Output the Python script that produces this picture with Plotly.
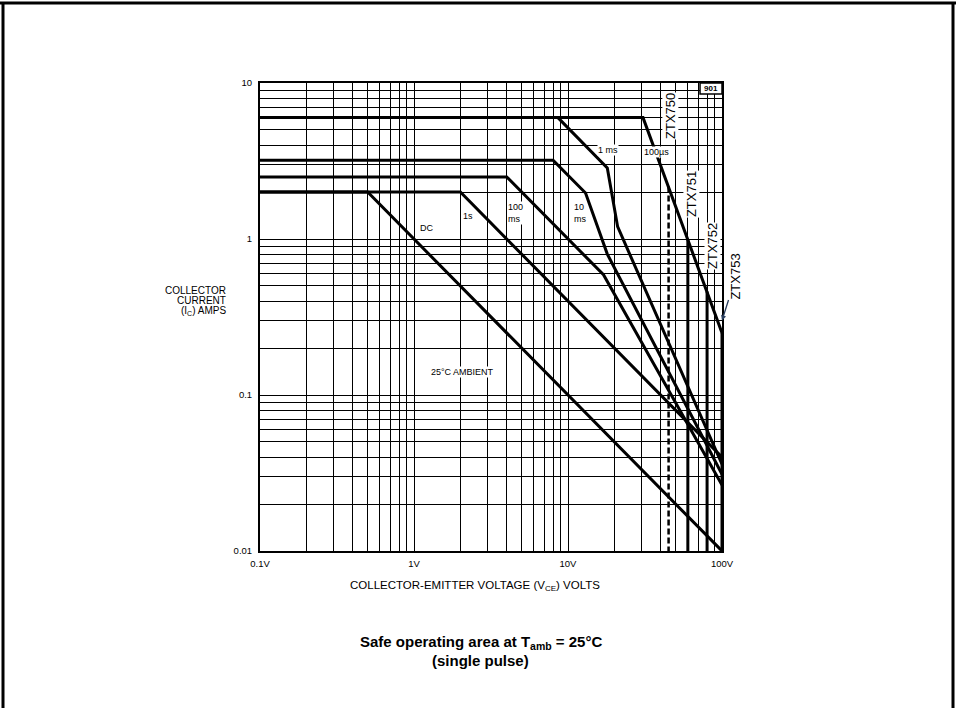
import math
import plotly.graph_objects as go

# ---------------- data ----------------
# curves: collector-emitter voltage (V) and collector current (A)
dc_v = [0.1, 0.5, 100]
dc_i = [2.0, 2.0, 0.01]

s1_v = [0.1, 2.0, 100]
s1_i = [2.0, 2.0, 0.04]

ms100_v = [0.1, 4.0, 17.0, 100]
ms100_i = [2.5, 2.5, 0.59, 0.0265]

ms10_v = [0.1, 8.0, 13.0, 18.0, 100]
ms10_i = [3.2, 3.2, 1.97, 0.8, 0.031]

ms1_v = [8.6, 18.0, 21.0, 100]
ms1_i = [6.0, 2.85, 1.2, 0.036]

us100_v = [0.1, 30.7, 100]
us100_i = [6.0, 6.0, 0.25]

# device VCEO limits (vertical lines)
dev_names = ["ZTX750", "ZTX751", "ZTX752", "ZTX753"]
dev_vceo = [45, 60, 80, 100]
dev_top_i = [2.17, 0.99, 0.46, 0.25]
dev_dash = ["dash", "solid", "solid", "solid"]

x_major = [0.1, 1, 10, 100]
x_major_text = ["0.1V", "1V", "10V", "100V"]
y_major = [0.01, 0.1, 1, 10]
y_major_text = ["0.01", "0.1", "1", "10"]

FONT = "Liberation Sans, Arial, Helvetica, sans-serif"

# grid values (log grid 1..9 per decade)
x_grid = [d * 10.0 ** e for e in (-1, 0, 1) for d in range(1, 10)] + [100]
y_grid = [d * 10.0 ** e for e in (-2, -1, 0) for d in range(1, 10)] + [10]


def fmt_tick(v, majors, texts):
    for m, t in zip(majors, texts):
        if abs(v - m) < 1e-9 * max(1, m):
            return t
    return ""


x_text = [fmt_tick(v, x_major, x_major_text) for v in x_grid]
y_text = [fmt_tick(v, y_major, y_major_text) for v in y_grid]

fig = go.Figure()

line_style = dict(color="black", width=3)
for vv, ii in [(dc_v, dc_i), (s1_v, s1_i), (ms100_v, ms100_i),
               (ms10_v, ms10_i), (ms1_v, ms1_i), (us100_v, us100_i)]:
    fig.add_trace(go.Scatter(x=vv, y=ii, mode="lines", line=line_style,
                             showlegend=False, hoverinfo="skip"))

for v, top, dsh in zip(dev_vceo, dev_top_i, dev_dash):
    fig.add_trace(go.Scatter(x=[v, v], y=[top, 0.01], mode="lines",
                             line=dict(color="black", width=3 if dsh == "solid" else 2.5,
                                       dash="6px,3px" if dsh == "dash" else "solid"),
                             showlegend=False, hoverinfo="skip"))

W, H = 956, 708
L, R, T, B = 260, 956 - 722, 83, 708 - 551
PW, PH = W - L - R, H - T - B


def px(x):
    return (x - L) / PW


def py(y):
    return (H - B - y) / PH


lg = math.log10

fig.update_layout(
    width=W, height=H,
    margin=dict(l=L, r=R, t=T, b=B, pad=0),
    paper_bgcolor="white", plot_bgcolor="white",
    font=dict(family=FONT, color="black"),
    xaxis=dict(type="log", range=[-1, 2], tickvals=x_grid, ticktext=x_text,
               showgrid=True, gridcolor="black", gridwidth=1.2,
               showline=True, mirror=True, linecolor="black", linewidth=2,
               ticks="", ticklabelstandoff=3, tickfont=dict(size=9.5, family=FONT),
               zeroline=False, fixedrange=True),
    yaxis=dict(type="log", range=[-2, 1], tickvals=y_grid, ticktext=y_text,
               showgrid=True, gridcolor="black", gridwidth=1.2,
               showline=True, mirror=True, linecolor="black", linewidth=2,
               ticks="", ticklabelstandoff=4, tickfont=dict(size=9.5, family=FONT),
               zeroline=False, fixedrange=True),
)

# "901" box in the top right corner
fig.add_shape(type="rect", xref="x", yref="y", x0=72, x1=100, y0=8.5, y1=10,
              fillcolor="white", line=dict(color="black", width=1.5), layer="above")
fig.add_annotation(x=lg(85), y=lg(9.2), xref="x", yref="y", text="<b>901</b>",
                   showarrow=False, font=dict(size=8, family=FONT))

# frame around the page
frame = dict(color="black", width=3)
fig.add_shape(type="line", xref="paper", yref="paper", x0=px(0), x1=px(956), y0=py(3), y1=py(3), line=frame)
fig.add_shape(type="line", xref="paper", yref="paper", x0=px(3), x1=px(3), y0=py(2), y1=py(708), line=frame)
fig.add_shape(type="line", xref="paper", yref="paper", x0=px(953), x1=px(953), y0=py(2), y1=py(708), line=frame)

# curve labels
lab_font = dict(size=9, family=FONT, color="black")
labels = [
    ("DC", 1.215, 1.18, "center"),
    ("1s", 2.24, 1.40, "center"),
    ("100<br>ms", 4.02, 1.47, "left"),
    ("10<br>ms", 10.8, 1.47, "left"),
    ("1 ms", 18.3, 3.72, "center"),
    ("100µs", 37.3, 3.61, "center"),
    ("25°C AMBIENT", 2.05, 0.140, "center"),
]
for txt, xv, yv, anc in labels:
    fig.add_annotation(x=lg(xv), y=lg(yv), xref="x", yref="y", text=txt, showarrow=False,
                       xanchor=anc, align="left", font=lab_font, bgcolor="white",
                       borderpad=0)

# device labels (rotated)
dev_font = dict(size=13, family=FONT, color="black")
dev_pos = [(45.9, 6.14), (62.9, 1.94), (87.4, 0.902)]
for name, (xv, yv) in zip(dev_names[:3], dev_pos):
    fig.add_annotation(x=lg(xv), y=lg(yv), xref="x", yref="y", text=name, textangle=-90,
                       showarrow=False, font=dev_font, bgcolor="white", borderpad=0)
fig.add_annotation(x=lg(100), y=lg(0.30), xref="x", yref="y", text=dev_names[3], textangle=-90,
                   showarrow=True, arrowhead=2, arrowsize=0.8, arrowwidth=1.3,
                   ax=14, ay=-44, font=dev_font, bgcolor="white", borderpad=0)

# axis titles
for txt, yy in [("COLLECTOR", 290), ("CURRENT", 300.5), ("(I<sub>C</sub>) AMPS", 311)]:
    fig.add_annotation(x=px(228), y=py(yy), xref="paper", yref="paper", text=txt,
                       showarrow=False, xanchor="right", yanchor="middle",
                       font=dict(size=10, family=FONT))
fig.add_annotation(x=px(348), y=py(586), xref="paper", yref="paper",
                   text="COLLECTOR-EMITTER VOLTAGE (V<sub>CE</sub>) VOLTS",
                   showarrow=False, xanchor="left", yanchor="middle",
                   font=dict(size=11.5, family=FONT))

# caption
fig.add_annotation(x=px(481), y=py(642), xref="paper", yref="paper",
                   text="<b>Safe operating area at T<sub>amb</sub> = 25°C</b>",
                   showarrow=False, yanchor="middle", font=dict(size=15, family=FONT))
fig.add_annotation(x=px(480), y=py(660), xref="paper", yref="paper",
                   text="<b>(single pulse)</b>",
                   showarrow=False, yanchor="middle", font=dict(size=15, family=FONT))

fig.write_html("out.html", config={"displayModeBar": False},
               post_script="document.body.style.margin='0px';")
